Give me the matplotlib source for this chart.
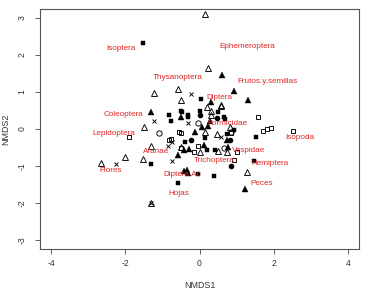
import matplotlib
matplotlib.use("Agg")
import matplotlib.pyplot as plt

plt.rcParams['font.family'] = ['Liberation Sans', 'DejaVu Sans']

# Site scores by symbol group (NMDS1, NMDS2)
open_tri_x = [0.16, -1.24, -0.57, -0.49, -1.49, 0.22, 0.19, 0.59, 0.32, 0.30, 0.81, 0.46, 0.49, 0.73, 0.0, 1.27, -1.32, -2.0, -1.51, -2.65, -1.32, 0.57, 0.16, -0.49]
open_tri_y = [3.11, 0.97, 1.08, 0.78, 0.05, 1.65, 0.59, 0.62, 0.38, 0.49, 0.05, -0.14, -0.59, -0.62, -0.62, -1.16, -0.46, -0.75, -0.80, -0.92, -2.0, 0.65, -0.08, -0.49]

fill_tri_x = [-1.32, -0.51, 0.62, 0.92, 1.32, 0.30, 0.27, 0.08, 0.22, 0.73, -0.11, -0.41, -0.27, -0.57, -0.43, -0.30, 1.24, 0.78, 0.11, -0.35]
fill_tri_y = [0.46, 0.32, 1.46, 1.03, 0.78, 0.73, 0.22, 0.05, 0.08, -0.30, -0.08, -0.57, -0.54, -0.70, -1.14, -1.20, -1.62, -0.49, -0.43, -1.12]

fill_sq_x = [-1.51, -0.46, -0.78, 0.05, 0.49, 0.65, -0.32, 0.92, 0.73, 1.51, 0.16, 0.19, 0.41, 1.46, 0.38, -0.05, -0.57, -1.30, -0.81, -0.49, -0.32, 0.00, 0.68, -0.38]
fill_sq_y = [2.32, 0.46, 0.22, 0.81, 0.46, 0.32, 0.32, -0.03, -0.14, -0.22, -0.24, -0.57, -0.57, -0.86, -1.27, -1.22, -1.46, -0.95, 0.38, 0.49, 0.38, 0.49, 0.27, -0.35]

open_sq_x = [-1.89, -0.78, -0.51, 1.57, 1.70, 1.81, 1.92, 2.51, 0.86, -0.51, -0.14, 1.00, 0.92, -0.03, -0.81, -0.54]
open_sq_y = [-0.22, -0.27, -0.11, 0.32, -0.05, 0.00, 0.03, -0.05, -0.11, -0.51, -0.62, -0.62, -0.84, -0.46, -0.30, -0.08]

cross_x = [-1.22, -0.22, -2.24, -0.73, -1.32, -0.73, -0.32, -0.86, 0.57]
cross_y = [0.22, 0.95, -0.95, -0.86, -2.0, -0.35, 0.16, -0.46, -0.22]

open_circ_x = [-1.08, -0.05, 0.65, 0.84]
open_circ_y = [-0.11, 0.16, -0.51, -0.08]

fill_circ_x = [0.84, 0.0, 0.46, 0.81, -0.24]
fill_circ_y = [-1.00, 0.38, 0.30, -0.30, -0.30]

# Species labels
species = ["Isoptera", "Ephemeroptera", "Thysanoptera", "Frutos.y.semillas", "Diptera",
           "Coleoptera", "Formicidae", "Lepidoptera", "Isopoda", "Vespidae", "Hemiptera",
           "Trichoptera", "Aranae", "Flores", "Diptera.Ac", "Hojas", "Peces"]
sp_x = [-2.11, 1.30, -0.59, 1.84, 0.54, -2.05, 0.76, -2.32, 2.70, 1.32, 1.89, 0.41, -1.16, -2.41, -0.46, -0.57, 1.68]
sp_y = [2.16, 2.22, 1.38, 1.27, 0.84, 0.38, 0.14, -0.11, -0.24, -0.59, -0.92, -0.86, -0.62, -1.11, -1.24, -1.73, -1.46]

xticks = [-4, -2, 0, 2, 4]
yticks = [-3, -2, -1, 0, 1, 2, 3]

fig = plt.figure(figsize=(3.68, 2.91), dpi=100)
ax = fig.add_axes([40/368, 1-249/291, (359-40)/368, (249-9)/291])

ms = 3.8
kw = dict(linestyle='none', color='black', markersize=ms)
ax.plot(open_tri_x, open_tri_y, marker='^', markerfacecolor='none', markeredgewidth=0.65, **kw)
ax.plot(fill_tri_x, fill_tri_y, marker='^', markeredgewidth=0.3, **kw)
ax.plot(fill_sq_x, fill_sq_y, marker='s', markersize=3.1, linestyle='none', color='black', markeredgewidth=0.3)
ax.plot(open_sq_x, open_sq_y, marker='s', markerfacecolor='none', markeredgewidth=0.65, linestyle='none', color='black', markersize=3.5)
ax.plot(cross_x, cross_y, marker='x', markeredgewidth=0.65, linestyle='none', color='black', markersize=3.3)
ax.plot(open_circ_x, open_circ_y, marker='o', markerfacecolor='none', markeredgewidth=0.65, **kw)
ax.plot(fill_circ_x, fill_circ_y, marker='o', linestyle='none', color='black', markersize=3.0)

for name, x, y in zip(species, sp_x, sp_y):
    ax.text(x, y, name, color='#e02828', fontsize=5.9, ha='center', va='center')

ax.set_xlim(-4.3, 4.3)
ax.set_ylim(-3.24, 3.24)
ax.set_xticks(xticks)
ax.set_yticks(yticks)
ax.set_xticklabels([str(t) for t in xticks], fontsize=6.2, color='#333333')
ax.set_yticklabels([str(t) for t in yticks], fontsize=6.2, color='#333333', rotation=90, va='center')
ax.tick_params(direction='out', length=3.5, width=0.6, color='#444444', pad=4)
ax.tick_params(axis='y', pad=6)
for s in ax.spines.values():
    s.set_linewidth(0.8)
    s.set_color('#555555')
ax.set_xlabel('NMDS1', fontsize=6.4, color='#333333', labelpad=9)
ax.set_ylabel('NMDS2', fontsize=6.4, color='#333333')
ax.yaxis.set_label_coords(-30/319, 0.5)

fig.savefig('out.png', dpi=100)
